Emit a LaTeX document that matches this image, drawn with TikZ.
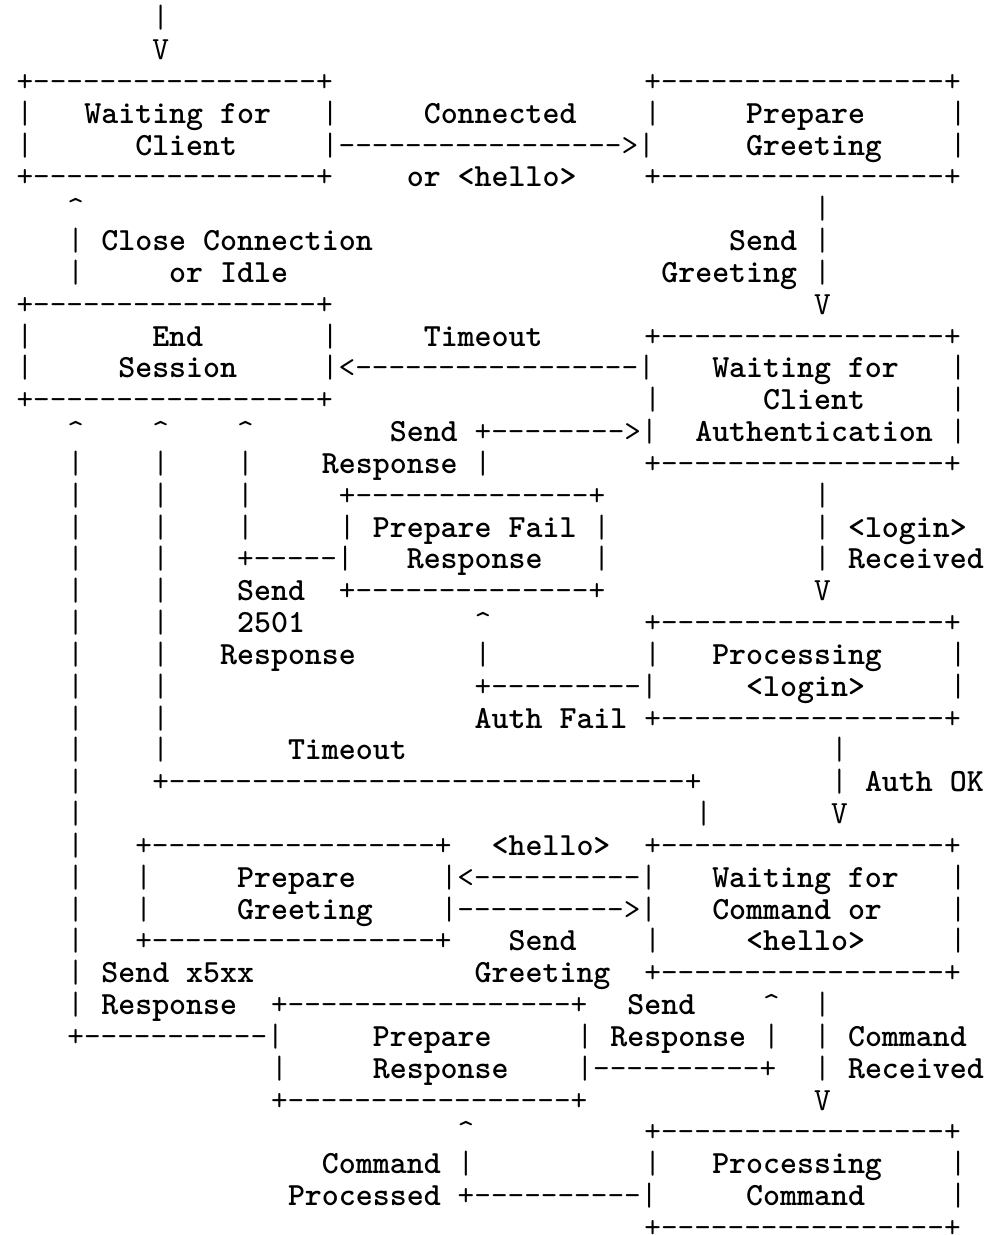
\documentclass[tikz,border=0pt]{standalone}
\tikzset{
  segl/.style={anchor=base west, inner sep=0pt, outer sep=0pt, font=\fontsize{32.32}{38}\selectfont\ttfamily},
  segw/.style={segl, font=\fontsize{32.32}{38}\selectfont\ttfamily\bfseries}
}
\newcommand\ascseg[3]{\node[segl] (r#1c#2) at ({16.5+#2*16.97},{-(27.8+#1*31.83)}) {#3};}
\newcommand\ascword[3]{\node[segw] (r#1c#2) at ({16.5+#2*16.97},{-(27.8+#1*31.83)}) {#3};}
\newcommand\boxline{+-----------------+}
\newcommand\up{\textasciicircum}
\begin{document}
\begin{tikzpicture}[x=1pt,y=1pt]
\fill[white] (0,0) rectangle (997,-1235);
\useasboundingbox (0,0) rectangle (997,-1235);
% row 0-1
\ascseg{0}{8}{|}
\ascseg{1}{8}{V}
% row 2-5: Waiting for Client / Prepare Greeting
\ascseg{2}{0}{\boxline}
\ascseg{2}{37}{\boxline}
\ascseg{3}{0}{|}
\ascword{3}{4}{Waiting for}
\ascseg{3}{18}{|}
\ascword{3}{24}{Connected}
\ascseg{3}{37}{|}
\ascword{3}{43}{Prepare}
\ascseg{3}{55}{|}
\ascseg{4}{0}{|}
\ascword{4}{7}{Client}
\ascseg{4}{18}{|----------------->|}
\ascword{4}{43}{Greeting}
\ascseg{4}{55}{|}
\ascseg{5}{0}{\boxline}
\ascword{5}{23}{or <hello>}
\ascseg{5}{37}{\boxline}
% rows 6-9
\ascseg{6}{3}{\up}
\ascseg{6}{47}{|}
\ascseg{7}{3}{|}
\ascword{7}{5}{Close Connection}
\ascword{7}{42}{Send}
\ascseg{7}{47}{|}
\ascseg{8}{3}{|}
\ascword{8}{9}{or Idle}
\ascword{8}{38}{Greeting}
\ascseg{8}{47}{|}
\ascseg{9}{0}{\boxline}
\ascseg{9}{47}{V}
% rows 10-12: End Session / Waiting for Client Authentication
\ascseg{10}{0}{|}
\ascword{10}{8}{End}
\ascseg{10}{18}{|}
\ascword{10}{24}{Timeout}
\ascseg{10}{37}{\boxline}
\ascseg{11}{0}{|}
\ascword{11}{6}{Session}
\ascseg{11}{18}{|<-----------------|}
\ascword{11}{41}{Waiting for}
\ascseg{11}{55}{|}
\ascseg{12}{0}{\boxline}
\ascseg{12}{37}{|}
\ascword{12}{44}{Client}
\ascseg{12}{55}{|}
% row 13-14
\ascseg{13}{3}{\up}
\ascseg{13}{8}{\up}
\ascseg{13}{13}{\up}
\ascword{13}{22}{Send}
\ascseg{13}{27}{+-------->|}
\ascword{13}{40}{Authentication}
\ascseg{13}{55}{|}
\ascseg{14}{3}{|}
\ascseg{14}{8}{|}
\ascseg{14}{13}{|}
\ascword{14}{18}{Response}
\ascseg{14}{27}{|}
\ascseg{14}{37}{\boxline}
% rows 15-18: Prepare Fail Response
\ascseg{15}{3}{|}
\ascseg{15}{8}{|}
\ascseg{15}{13}{|}
\ascseg{15}{19}{+--------------+}
\ascseg{15}{47}{|}
\ascseg{16}{3}{|}
\ascseg{16}{8}{|}
\ascseg{16}{13}{|}
\ascseg{16}{19}{|}
\ascword{16}{21}{Prepare Fail}
\ascseg{16}{34}{|}
\ascseg{16}{47}{|}
\ascword{16}{49}{<login>}
\ascseg{17}{3}{|}
\ascseg{17}{8}{|}
\ascseg{17}{13}{+-----|}
\ascword{17}{23}{Response}
\ascseg{17}{34}{|}
\ascseg{17}{47}{|}
\ascword{17}{49}{Received}
\ascseg{18}{3}{|}
\ascseg{18}{8}{|}
\ascword{18}{13}{Send}
\ascseg{18}{19}{+--------------+}
\ascseg{18}{47}{V}
% rows 19-22: Processing <login>
\ascseg{19}{3}{|}
\ascseg{19}{8}{|}
\ascword{19}{13}{2501}
\ascseg{19}{27}{\up}
\ascseg{19}{37}{\boxline}
\ascseg{20}{3}{|}
\ascseg{20}{8}{|}
\ascword{20}{12}{Response}
\ascseg{20}{27}{|}
\ascseg{20}{37}{|}
\ascword{20}{41}{Processing}
\ascseg{20}{55}{|}
\ascseg{21}{3}{|}
\ascseg{21}{8}{|}
\ascseg{21}{27}{+---------|}
\ascword{21}{43}{<login>}
\ascseg{21}{55}{|}
\ascseg{22}{3}{|}
\ascseg{22}{8}{|}
\ascword{22}{27}{Auth Fail}
\ascseg{22}{37}{\boxline}
% rows 23-25
\ascseg{23}{3}{|}
\ascseg{23}{8}{|}
\ascword{23}{16}{Timeout}
\ascseg{23}{48}{|}
\ascseg{24}{3}{|}
\ascseg{24}{8}{+-------------------------------+}
\ascseg{24}{48}{|}
\ascword{24}{50}{Auth OK}
\ascseg{25}{3}{|}
\ascseg{25}{40}{|}
\ascseg{25}{48}{V}
% rows 26-30: Prepare Greeting / Waiting for Command or <hello>
\ascseg{26}{3}{|}
\ascseg{26}{7}{\boxline}
\ascword{26}{28}{<hello>}
\ascseg{26}{37}{\boxline}
\ascseg{27}{3}{|}
\ascseg{27}{7}{|}
\ascword{27}{13}{Prepare}
\ascseg{27}{25}{|<----------|}
\ascword{27}{41}{Waiting for}
\ascseg{27}{55}{|}
\ascseg{28}{3}{|}
\ascseg{28}{7}{|}
\ascword{28}{13}{Greeting}
\ascseg{28}{25}{|---------->|}
\ascword{28}{41}{Command or}
\ascseg{28}{55}{|}
\ascseg{29}{3}{|}
\ascseg{29}{7}{\boxline}
\ascword{29}{29}{Send}
\ascseg{29}{37}{|}
\ascword{29}{43}{<hello>}
\ascseg{29}{55}{|}
\ascseg{30}{3}{|}
\ascword{30}{5}{Send x5xx}
\ascword{30}{27}{Greeting}
\ascseg{30}{37}{\boxline}
% rows 31-34: Prepare Response
\ascseg{31}{3}{|}
\ascword{31}{5}{Response}
\ascseg{31}{15}{\boxline}
\ascword{31}{36}{Send}
\ascseg{31}{44}{\up}
\ascseg{31}{47}{|}
\ascseg{32}{3}{+-----------|}
\ascword{32}{21}{Prepare}
\ascseg{32}{33}{|}
\ascword{32}{35}{Response}
\ascseg{32}{44}{|}
\ascseg{32}{47}{|}
\ascword{32}{49}{Command}
\ascseg{33}{15}{|}
\ascword{33}{21}{Response}
\ascseg{33}{33}{|----------+}
\ascseg{33}{47}{|}
\ascword{33}{49}{Received}
\ascseg{34}{15}{\boxline}
\ascseg{34}{47}{V}
% rows 35-38: Processing Command
\ascseg{35}{26}{\up}
\ascseg{35}{37}{\boxline}
\ascword{36}{18}{Command}
\ascseg{36}{26}{|}
\ascseg{36}{37}{|}
\ascword{36}{41}{Processing}
\ascseg{36}{55}{|}
\ascword{37}{16}{Processed}
\ascseg{37}{26}{+----------|}
\ascword{37}{43}{Command}
\ascseg{37}{55}{|}
\ascseg{38}{37}{\boxline}
\end{tikzpicture}
\end{document}
